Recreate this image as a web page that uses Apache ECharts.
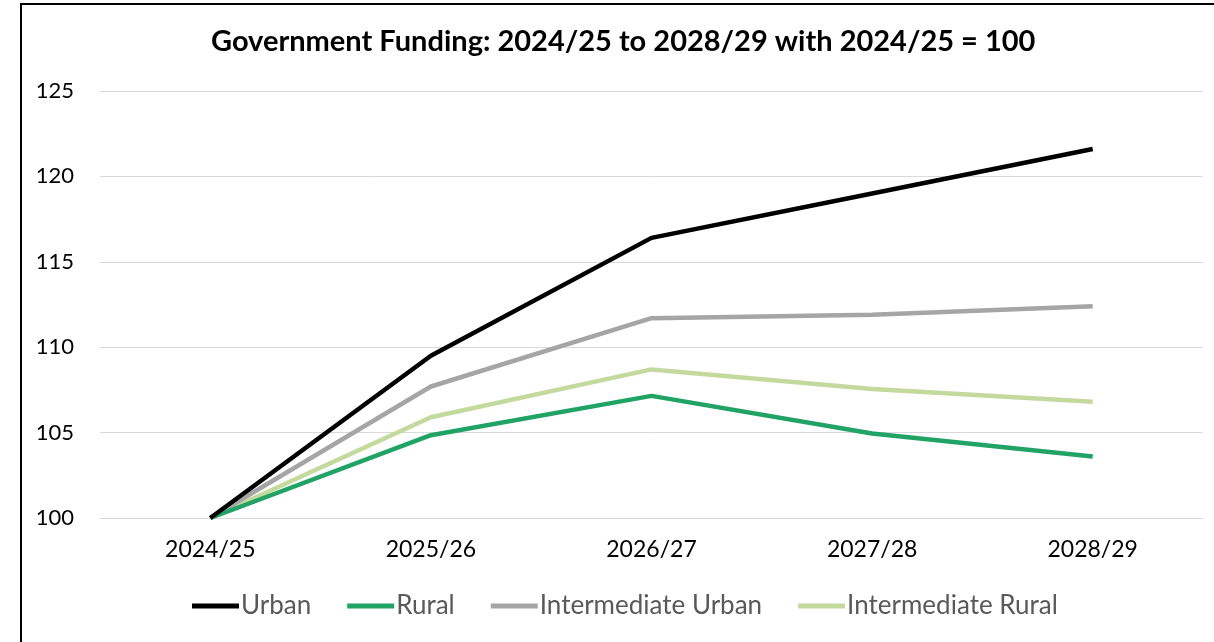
<!DOCTYPE html>
<html><head><meta charset="utf-8">
<script src="https://cdn.jsdelivr.net/npm/echarts@6/dist/echarts.min.js"></script>
<style>
html,body{margin:0;padding:0;background:#fff;overflow:hidden}
#frame{position:absolute;left:20px;top:3px;width:1300px;height:700px;border-left:2px solid #000;border-top:2px solid #000;box-sizing:border-box}
#chart{position:absolute;left:0;top:0;width:1214px;height:642px}
</style></head>
<body>
<div id="frame"></div>
<div id="chart"></div>
<script>
const categories = ['2024/25','2025/26','2026/27','2027/28','2028/29'];
const urban = [100, 109.5, 116.4, 119.0, 121.6];
const rural = [100, 104.85, 107.15, 104.95, 103.6];
const intermediateUrban = [100, 107.7, 111.7, 111.9, 112.4];
const intermediateRural = [100, 105.9, 108.7, 107.55, 106.8];
const seriesNames = ['Urban','Rural','Intermediate Urban','Intermediate Rural'];
const colors = ['#000000','#21a366','#a5a5a5','#c4d99e'];
const values = [urban, rural, intermediateUrban, intermediateRural];

const chart = echarts.init(document.getElementById('chart'));
const font = 'Lato, "Open Sans", sans-serif';
chart.setOption({
  animation:false,
  title:{text:'Government Funding: 2024/25 to 2028/29 with 2024/25 = 100', left:206, top:22,
    textStyle:{fontFamily:font, fontWeight:'bold', fontSize:29, color:'#000'}},
  grid:{left:100, right:11, top:91, bottom:124},
  legend:{bottom:18, left:187, itemWidth:47, itemHeight:5, itemGap:36,
    icon:'rect',
    textStyle:{fontFamily:font, fontSize:26, color:'#595959', padding:[0,0,0,-3]},
    data:seriesNames},
  xAxis:{type:'category', data:categories, boundaryGap:true,
    axisLine:{show:false}, axisTick:{show:false},
    axisLabel:{fontFamily:font, fontSize:23, color:'#000', margin:20}},
  yAxis:{type:'value', min:100, max:125, interval:5,
    axisLine:{show:false}, axisTick:{show:false},
    axisLabel:{fontFamily:font, fontSize:22, color:'#000', margin:26},
    splitLine:{lineStyle:{color:'#d9d9d9', width:1}}},
  series: seriesNames.map((n,i)=>({name:n, type:'line', data:values[i], symbol:'none',
    color:colors[i], lineStyle:{width:4.5, color:colors[i]}, z:10-i}))
});
</script>
</body></html>
